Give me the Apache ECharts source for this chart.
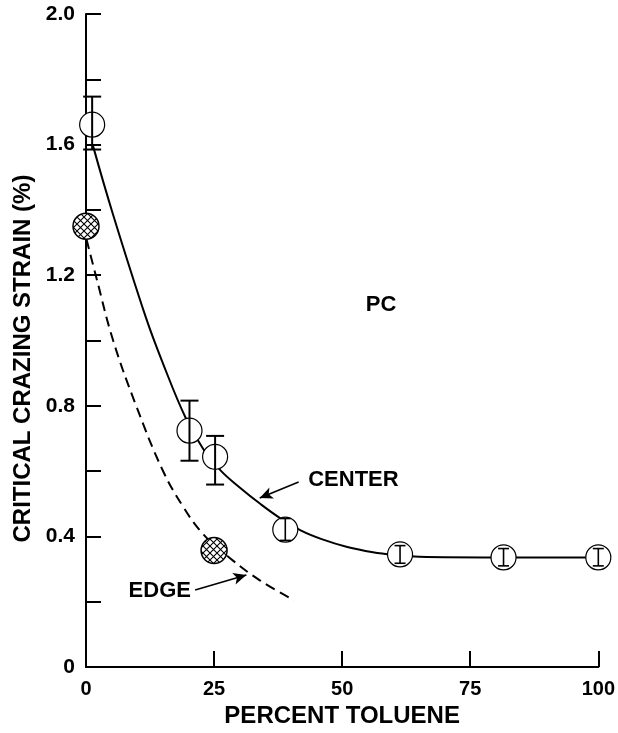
<!DOCTYPE html>
<html>
<head>
<meta charset="utf-8">
<style>
  html, body { margin: 0; padding: 0; background: #fff; }
  #chart { width: 618px; height: 733px; }
</style>
<script src="https://cdn.jsdelivr.net/npm/echarts@6/dist/echarts.min.js"></script>
</head>
<body>
<div id="chart"></div>
<script>
// CENTER 数据点（空心圆 + 误差棒）
var centerX    = [1.2, 20.2, 25.2, 38.9, 61.3, 81.5, 100];
var centerY    = [1.661, 0.724, 0.644, 0.421, 0.345, 0.336, 0.336];
var centerLow  = [1.585, 0.632, 0.559, 0.388, 0.318, 0.31, 0.31];
var centerHigh = [1.747, 0.816, 0.708, 0.455, 0.372, 0.363, 0.363];

// EDGE 数据点（网格填充圆）
var edgeX = [0, 25];
var edgeY = [1.35, 0.357];

// 拟合曲线
var centerCurve = [[1.3, 1.60], [5.2, 1.39], [11.7, 1.07], [14.9, 0.935], [19.4, 0.765],
  [23, 0.665], [26.4, 0.60], [30, 0.55], [34, 0.50], [38, 0.455], [42, 0.418],
  [46, 0.392], [51, 0.368], [56, 0.352], [60, 0.344], [65, 0.338], [80, 0.336], [100, 0.336]];
var edgeCurve = [[0.1, 1.31], [1.9, 1.2], [5.3, 1.0], [9.8, 0.8], [14.9, 0.605],
  [19, 0.49], [23, 0.405], [28, 0.335], [34, 0.265], [40.6, 0.205]];

// 刻度标签
var xTicks = [0, 25, 50, 75, 100];
var yLabelTicks = ['0', '0.4', '0.8', '1.2', '1.6', '2.0'];

// 图中文字标注
var noteText = ['PC', 'CENTER', 'EDGE'];
var noteX = [57.6, 52.2, 14.4];
var noteY = [1.11, 0.574, 0.232];

var font = "'Liberation Sans', Arial, sans-serif";

// 网格填充图案
function hatch() {
  var s = 7;
  var c = document.createElement('canvas');
  c.width = s; c.height = s;
  var g = c.getContext('2d');
  g.fillStyle = '#fff';
  g.fillRect(0, 0, s, s);
  g.strokeStyle = '#000';
  g.lineWidth = 1.1;
  g.beginPath();
  g.moveTo(0, 0); g.lineTo(s, s);
  g.moveTo(s, 0); g.lineTo(0, s);
  g.stroke();
  return c;
}
var hatchImg = hatch();

var myChart = echarts.init(document.getElementById('chart'));

var centerPts = centerX.map(function (x, i) { return [x, centerY[i]]; });
var errData = centerX.map(function (x, i) { return [x, centerLow[i], centerHigh[i]]; });
var edgePts = edgeX.map(function (x, i) { return [x, edgeY[i]]; });
var notePts = noteX.map(function (x, i) { return [x, noteY[i], i]; });

var option = {
  animation: false,
  backgroundColor: '#fff',
  grid: { left: 86, right: 13, top: 14, bottom: 64 },
  xAxis: {
    type: 'value',
    min: 0, max: 100, interval: 25,
    name: 'PERCENT TOLUENE',
    nameLocation: 'middle',
    nameGap: 36,
    nameTextStyle: { color: '#000', fontSize: 24, fontWeight: 'bold', fontFamily: font },
    axisLine: { lineStyle: { color: '#000', width: 2 } },
    axisTick: { inside: true, length: 16, lineStyle: { color: '#000', width: 2 } },
    axisLabel: {
      color: '#000', fontSize: 20, fontWeight: 'bold', fontFamily: font, margin: 12,
      formatter: function (v) { return xTicks.indexOf(v) >= 0 ? String(v) : ''; }
    },
    splitLine: { show: false }
  },
  yAxis: {
    type: 'value',
    min: 0, max: 2, interval: 0.2,
    name: 'CRITICAL CRAZING STRAIN (%)',
    nameLocation: 'middle',
    nameGap: 49,
    nameTextStyle: {
      color: '#000', fontSize: 24, fontWeight: 'bold', fontFamily: font,
      padding: [0, 36, 0, 0]
    },
    axisLine: { lineStyle: { color: '#000', width: 2 } },
    axisTick: { inside: true, length: 15, lineStyle: { color: '#000', width: 2 } },
    axisLabel: {
      color: '#000', fontSize: 21, fontWeight: 'bold', fontFamily: font, margin: 11,
      formatter: function (v) {
        var r = Math.round(v * 10);
        return r % 4 === 0 ? yLabelTicks[r / 4] : '';
      }
    },
    splitLine: { show: false }
  },
  series: [
    {
      name: 'CENTER curve',
      type: 'line',
      data: centerCurve,
      smooth: 0.4,
      showSymbol: false,
      lineStyle: { color: '#000', width: 2 },
      z: 2
    },
    {
      name: 'EDGE curve',
      type: 'line',
      data: edgeCurve,
      smooth: 0.4,
      showSymbol: false,
      lineStyle: { color: '#000', width: 2, type: [10, 6] },
      z: 2
    },
    {
      name: 'CENTER',
      type: 'scatter',
      data: centerPts,
      symbol: 'circle',
      symbolSize: 25,
      itemStyle: { color: '#fff', borderColor: '#000', borderWidth: 1.2, opacity: 1 },
      z: 3
    },
    {
      name: 'EDGE',
      type: 'custom',
      data: edgePts,
      z: 3,
      renderItem: function (params, api) {
        var p = api.coord([api.value(0), api.value(1)]);
        return {
          type: 'circle',
          shape: { cx: p[0], cy: p[1], r: 13 },
          style: {
            fill: { image: hatchImg, repeat: 'repeat' },
            stroke: '#000',
            lineWidth: 1.5
          }
        };
      }
    },
    {
      name: 'error',
      type: 'custom',
      data: errData,
      z: 4,
      renderItem: function (params, api) {
        var x = api.value(0);
        var lo = api.coord([x, api.value(1)]);
        var hi = api.coord([x, api.value(2)]);
        var big = api.value(2) - api.value(1) > 0.1;
        var w = big ? 9 : 5.5;
        var st = { stroke: '#000', lineWidth: big ? 2 : 1.6 };
        return {
          type: 'group',
          children: [
            { type: 'line', shape: { x1: lo[0], y1: lo[1], x2: hi[0], y2: hi[1] }, style: st },
            { type: 'line', shape: { x1: lo[0] - w, y1: lo[1], x2: lo[0] + w, y2: lo[1] }, style: st },
            { type: 'line', shape: { x1: hi[0] - w, y1: hi[1], x2: hi[0] + w, y2: hi[1] }, style: st }
          ]
        };
      }
    },
    {
      name: 'notes',
      type: 'custom',
      data: notePts,
      z: 5,
      renderItem: function (params, api) {
        var p = api.coord([api.value(0), api.value(1)]);
        return {
          type: 'text',
          x: p[0], y: p[1],
          style: {
            text: noteText[api.value(2)],
            fill: '#000',
            font: 'bold 22px ' + font,
            align: 'center',
            verticalAlign: 'middle'
          }
        };
      },
      markLine: {
        silent: true,
        symbol: ['none', 'arrow'],
        symbolSize: [9, 13],
        label: { show: false },
        lineStyle: { color: '#000', width: 1.6, type: 'solid' },
        data: [
          [{ coord: [41.5, 0.567] }, { coord: [33.9, 0.518] }],
          [{ coord: [21.3, 0.236] }, { coord: [31.3, 0.282] }]
        ]
      }
    }
  ]
};

myChart.setOption(option);
</script>
</body>
</html>
